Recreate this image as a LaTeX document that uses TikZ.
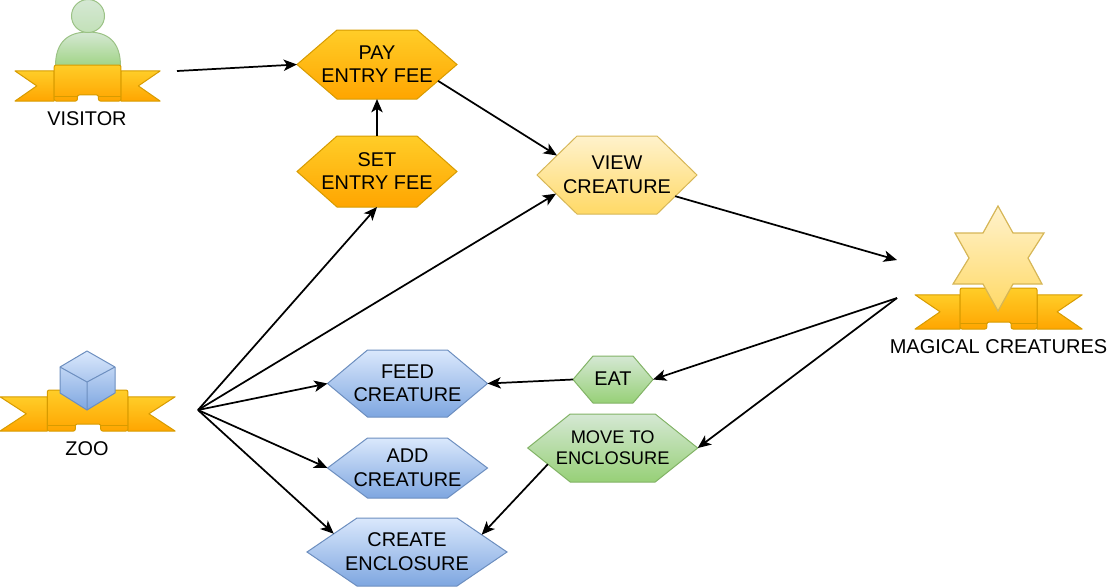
\documentclass[tikz,border=0pt]{standalone}
\usepackage{fontspec}
\setmainfont{Liberation Sans}
\usetikzlibrary{arrows.meta,shapes.symbols}
\definecolor{ogTop}{HTML}{FFCD28}\definecolor{ogBot}{HTML}{FFA500}\definecolor{ogLine}{HTML}{D79B00}
\definecolor{blTop}{HTML}{DAE8FC}\definecolor{blBot}{HTML}{7EA6E0}\definecolor{blLine}{HTML}{6C8EBF}
\definecolor{grTop}{HTML}{D5E8D4}\definecolor{grBot}{HTML}{97D077}\definecolor{grLine}{HTML}{82B366}
\definecolor{ylTop}{HTML}{FFF2CC}\definecolor{ylBot}{HTML}{FFD966}\definecolor{ylLine}{HTML}{D6B656}
\newcommand{\hexlabel}[1]{\raisebox{0pt}[\dimexpr\height+2.4pt\relax][\depth]{\makebox[0pt]{\begin{tabular}{@{}c@{}}#1\end{tabular}}}}
\tikzset{
  fnt/.style={font=\fontsize{14.9}{17.6}\selectfont,text=black},
  fnts/.style={font=\fontsize{13.7}{16.3}\selectfont,text=black},
  hexa/.style 2 args={signal,signal to=east and west,draw,line width=0.75pt,inner sep=0pt,outer sep=0pt,
    minimum width=#1*0.75pt,minimum height=#2*0.75pt,fnt,
    signal pointer angle={2*atan(2*#2/#1)}},
  og/.style={top color=ogTop,bottom color=ogBot,draw=ogLine},
  bl/.style={top color=blTop,bottom color=blBot,draw=blLine},
  gr/.style={top color=grTop,bottom color=grBot,draw=grLine},
  yl/.style={top color=ylTop,bottom color=ylBot,draw=ylLine},
  conn/.style={draw=black,line width=1.3pt,-{Stealth[length=10pt,width=8.5pt,inset=2.6pt]}},
  lbl/.style={fnt,inner sep=0pt},
  rib/.style={top color=ogTop,bottom color=ogBot,draw=ogLine,line width=0.75pt,line join=round},
}
\newcommand{\ribn}[4]{%
  \begin{scope}[shift={(#1,#2)},x=#3*0.0075pt,y=-#4*0.0075pt]
    \path[rib] (0,16.5)--(27,16.5)--(27,100)--(0,100)--(15,58)--cycle;
    \path[rib] (100,16.5)--(73,16.5)--(73,100)--(100,100)--(85,58)--cycle;
    \path[rib,rounded corners=1.5pt] (27,0)--(27,100)--(43,100)--(43,83)--(57.5,83)--(57.5,100)--(73,100)--(73,0)--cycle;
    \draw[draw=ogLine,line width=0.75pt] (27,87)--(43,87) (57.5,87)--(73,87);
  \end{scope}}
\begin{document}
\begin{tikzpicture}[x=0.75pt,y=-0.75pt]
\useasboundingbox (0,0) rectangle (1108,587);
% visitor
\path[top color=grTop,bottom color=grBot!85!grTop,draw=grLine!80,line width=0.75pt]
  (55.5,66) .. controls (55.5,42) and (68,32) .. (88,32) .. controls (108,32) and (120.5,42) .. (120.5,66) -- cycle;
\path[top color=grTop,bottom color=grTop!70!grBot,draw=grLine!80,line width=0.75pt] (88,16) circle [radius=16.5];
\ribn{15}{65}{145}{36}
\node[lbl] (visitor) at (87,119) {VISITOR};
% zoo
\ribn{0}{390}{175}{41}
\path[top color=blTop,bottom color=blBot,draw=blLine,line width=0.75pt,line join=round]
  (87,351)--(115,367)--(115,393)--(87,410)--(60,393)--(60,367)--cycle;
\draw[blLine,line width=0.75pt,line join=round] (60,367)--(87,382)--(115,367) (87,382)--(87,410);
\node[lbl] (zoo) at (87,449) {ZOO};
% magical creatures
\ribn{915}{288}{167}{41}
\path[top color=ylTop,bottom color=ylBot,draw=ylLine,line width=0.9pt,line join=miter]
  (998,206)--(1013,233)--(1044,233)--(1028,258)--(1042,284)--(1013,284)--(998,311)--(983,284)--(953,284)--(969,258)--(955,233)--(983,233)--cycle;
\node[lbl,font=\fontsize{15}{18}\selectfont] (magic) at (998.5,347) {MAGICAL CREATURES};
% hexagons
\node[hexa={160}{69},og] (pay) at (377,64.5) {\hexlabel{PAY\\ENTRY FEE}};
\node[hexa={160}{71},og] (set) at (377,171.5) {\hexlabel{SET\\ENTRY FEE}};
\node[hexa={160}{78},yl] (view) at (617,175) {\hexlabel{VIEW\\CREATURE}};
\node[hexa={160}{67},bl] (feed) at (407.5,383.5) {\hexlabel{FEED\\CREATURE}};
\node[hexa={160}{60},bl] (add) at (407.5,468) {\hexlabel{ADD\\CREATURE}};
\node[hexa={200}{68},bl] (create) at (407,552) {\hexlabel{CREATE\\ENCLOSURE}};
\node[hexa={80}{47},gr,fnt] (eat) at (613,379.5) {\hexlabel{EAT}};
\node[hexa={170}{68},gr,fnts] (move) at (612.7,448) {\hexlabel{MOVE TO\\ENCLOSURE}};
% free connector ends
\coordinate (visOut) at (177,71);
\coordinate (zooOut) at (198,410);
\coordinate (magIn) at (897,260);
\coordinate (magOut) at (897,298);
% connectors
\draw[conn] (visOut) -- (pay.west);
\draw[conn] (set.north) -- (pay.south);
\draw[conn] (pay.-15.4) -- (view.162);
\draw[conn] (zooOut) -- (set.south);
\draw[conn] (zooOut) -- (view.197);
\draw[conn] (zooOut) -- (feed.west);
\draw[conn] (zooOut) -- (add.west);
\draw[conn] (zooOut) -- (create.166.5);
\draw[conn] (view.-20.4) -- (magIn);
\draw[conn] (magOut) -- (eat.east);
\draw[conn] (magOut) -- (move.east);
\draw[conn] (eat.west) -- (feed.east);
\draw[conn] (move.194.7) -- (create.13.2);
\end{tikzpicture}
\end{document}
